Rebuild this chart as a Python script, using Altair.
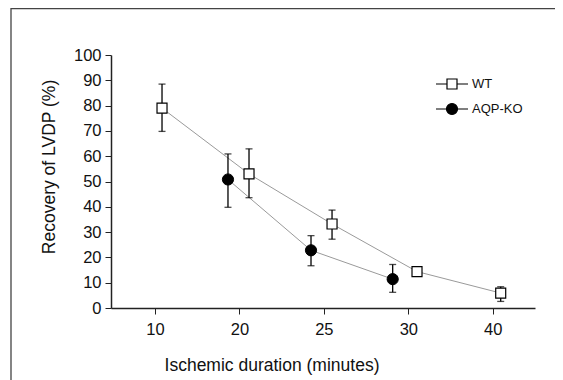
import altair as alt
import pandas as pd

# x positions are in "category slot" units: slot 1..5 carry the tick labels below
tick_labels = ["10", "20", "25", "30", "40"]

wt_pos = [1.084, 2.114, 3.097, 4.103, 5.094]
wt_mean = [79.0, 53.0, 33.2, 14.4, 5.9]
wt_lo = [69.8, 43.6, 27.2, 13.6, 2.6]
wt_hi = [88.5, 62.9, 38.7, 15.2, 8.4]

ko_pos = [1.865, 2.848, 3.815]
ko_mean = [50.8, 22.8, 11.4]
ko_lo = [39.8, 16.7, 6.2]
ko_hi = [60.9, 28.6, 17.2]

series_names = ["WT", "AQP-KO"]

df = pd.concat([
    pd.DataFrame({"series": "WT", "pos": wt_pos, "mean": wt_mean, "lo": wt_lo, "hi": wt_hi}),
    pd.DataFrame({"series": "AQP-KO", "pos": ko_pos, "mean": ko_mean, "lo": ko_lo, "hi": ko_hi}),
], ignore_index=True)

label_expr = "[" + ",".join("'%s'" % t for t in tick_labels) + "][datum.value - 1]"

x_scale = alt.Scale(domain=[0.48, 5.5], nice=False, zero=False)
y_scale = alt.Scale(domain=[0, 100], nice=False)

x_axis = alt.Axis(values=[1, 2, 3, 4, 5], labelExpr=label_expr,
                  title="Ischemic duration (minutes)", grid=False,
                  labelPadding=7, titlePadding=19, labelOverlap=False,
                  titleX=160.5, titleAlign="center", titleAnchor="start")
y_axis = alt.Axis(values=list(range(0, 101, 10)), title="Recovery of LVDP (%)",
                  grid=False, labelPadding=4, titlePadding=15,
                  labelOverlap=False, titleY=111.5, titleAlign="center")


def X():
    return alt.X("pos:Q", scale=x_scale, axis=x_axis)


def Y(field):
    return alt.Y(field + ":Q", scale=y_scale, axis=y_axis)


base = alt.Chart(df)

lines = base.mark_line(color="#9a9a9a", strokeWidth=1).encode(
    x=X(), y=Y("mean"), detail="series:N")

bars = base.mark_rule(color="black", strokeWidth=1.3).encode(
    x=X(), y=Y("lo"), y2="hi:Q")
cap_hi = base.mark_tick(orient="horizontal", size=7, thickness=1.3, color="black").encode(
    x=X(), y=Y("hi"))
cap_lo = base.mark_tick(orient="horizontal", size=7, thickness=1.3, color="black").encode(
    x=X(), y=Y("lo"))

wt_pts = base.transform_filter(alt.datum.series == "WT").mark_point(
    shape="square", size=100, filled=True, fill="white", stroke="black",
    strokeWidth=1.2, opacity=1).encode(x=X(), y=Y("mean"))
ko_pts = base.transform_filter(alt.datum.series == "AQP-KO").mark_point(
    shape="circle", size=125, filled=True, fill="black", stroke="black",
    strokeWidth=1, opacity=1).encode(x=X(), y=Y("mean"))

path_wt = "M-1.6,0H-0.5M0.5,0H1.6M-0.5,-0.5H0.5V0.5H-0.5Z"
path_ko = ("M-1.6,0H-0.55M0.55,0H1.6M-0.55,0A0.55,0.55 0 1,0 0.55,0"
           "A0.55,0.55 0 1,0 -0.55,0Z")

leg = alt.Legend(title=None, orient="none", legendX=330, legendY=18,
                 symbolSize=400, symbolOpacity=1, symbolStrokeColor="black",
                 symbolStrokeWidth=1.2, labelFontSize=13, labelOffset=9,
                 rowPadding=6, padding=0, labelFont="Liberation Sans",
                 labelColor="#111")

legend_layer = base.mark_point(filled=True).encode(
    x=X(), y=Y("mean"),
    opacity=alt.value(0),
    shape=alt.Shape("series:N", scale=alt.Scale(domain=series_names, range=[path_wt, path_ko]),
                    legend=leg),
    fill=alt.Fill("series:N", scale=alt.Scale(domain=series_names, range=["white", "black"]),
                  legend=leg),
    stroke=alt.Stroke("series:N", scale=alt.Scale(domain=series_names, range=["black", "black"]),
                      legend=leg),
)

# figure frame (left and top edges; the rest falls outside the picture)
frame_df = pd.DataFrame({"k": [0]})
frame = alt.Chart(frame_df).mark_rect(fill=None, fillOpacity=0, stroke="#444",
                                      strokeWidth=1.3).encode(
    x=alt.value(-100), x2=alt.value(700), y=alt.value(-46.5), y2=alt.value(700))

chart = alt.layer(lines, bars, cap_hi, cap_lo, wt_pts, ko_pts, legend_layer,
                  frame).properties(
    width=424, height=253,
    autosize=alt.AutoSizeParams(type="none"),
    padding={"left": 103, "top": 47, "right": 20, "bottom": 72},
).configure_view(stroke=None).configure_axis(
    domainColor="#222", domainWidth=1.5, tickColor="#222", tickSize=6, tickWidth=1,
    labelFont="Liberation Sans", labelFontSize=16.5, labelColor="#111",
    titleFont="Liberation Sans", titleFontSize=17.5, titleFontWeight="normal",
    titleColor="#111",
)

chart.save("out.html", embed_options={"renderer": "svg", "actions": False})
